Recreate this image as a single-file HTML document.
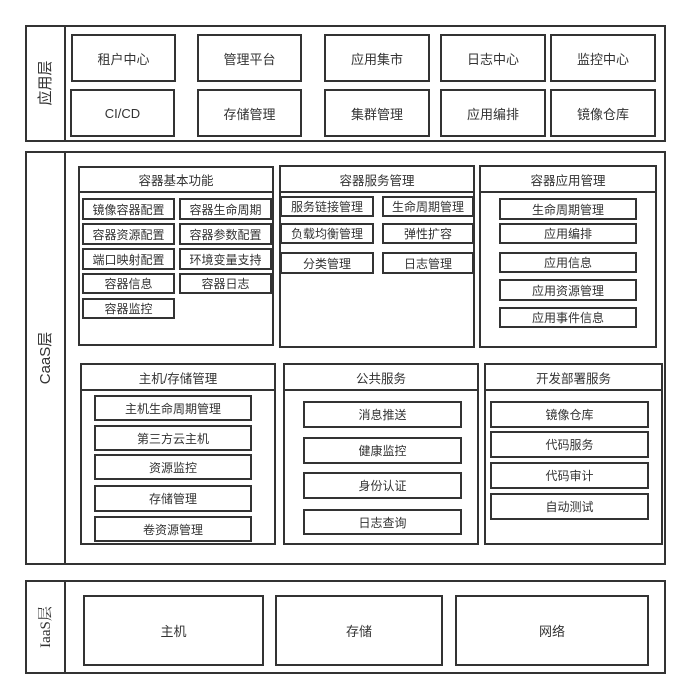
<!DOCTYPE html>
<html><head><meta charset="utf-8"><style>
*{margin:0;padding:0;box-sizing:border-box}
body{width:690px;height:698px;background:#fff;position:relative;overflow:hidden;font-family:"Liberation Sans","Noto Sans CJK SC",sans-serif;color:#333}
.b{position:absolute;border:2px solid #333;background:#fff;display:flex;align-items:center;justify-content:center;font-size:12px;white-space:nowrap}
.p{position:absolute;border:2px solid #333;background:#fff}
.h{position:absolute;border-bottom:2px solid #333;display:flex;align-items:center;justify-content:center;font-size:12.5px}
.v{position:absolute;transform:rotate(-90deg);font-size:15px;white-space:nowrap;text-align:center}
</style></head><body>
<!-- App layer -->
<div class="p" style="left:25px;top:25px;width:641px;height:117px"></div>
<div style="position:absolute;left:64px;top:25px;width:2px;height:117px;background:#333"></div>
<div class="v" style="left:5px;top:72px;width:80px;height:22px">应用层</div>
<div class="b" style="left:71px;top:34px;width:105px;height:48px;font-size:13px">租户中心</div>
<div class="b" style="left:197px;top:34px;width:105px;height:48px;font-size:13px">管理平台</div>
<div class="b" style="left:324px;top:34px;width:106px;height:48px;font-size:13px">应用集市</div>
<div class="b" style="left:440px;top:34px;width:106px;height:48px;font-size:13px">日志中心</div>
<div class="b" style="left:550px;top:34px;width:106px;height:48px;font-size:13px">监控中心</div>
<div class="b" style="left:70px;top:89px;width:105px;height:48px;font-size:13px">CI/CD</div>
<div class="b" style="left:197px;top:89px;width:105px;height:48px;font-size:13px">存储管理</div>
<div class="b" style="left:324px;top:89px;width:106px;height:48px;font-size:13px">集群管理</div>
<div class="b" style="left:440px;top:89px;width:106px;height:48px;font-size:13px">应用编排</div>
<div class="b" style="left:550px;top:89px;width:106px;height:48px;font-size:13px">镜像仓库</div>

<!-- CaaS layer -->
<div class="p" style="left:25px;top:151px;width:641px;height:414px"></div>
<div style="position:absolute;left:64px;top:151px;width:2px;height:414px;background:#333"></div>
<div class="v" style="left:5px;top:347px;width:80px;height:22px">CaaS层</div>

<div class="p" style="left:78px;top:166px;width:196px;height:180px"></div>
<div class="h" style="left:80px;top:168px;width:192px;height:25px">容器基本功能</div>
<div class="b" style="left:82px;top:198px;width:93px;height:22px">镜像容器配置</div>
<div class="b" style="left:179px;top:198px;width:93px;height:22px">容器生命周期</div>
<div class="b" style="left:82px;top:223px;width:93px;height:22px">容器资源配置</div>
<div class="b" style="left:179px;top:223px;width:93px;height:22px">容器参数配置</div>
<div class="b" style="left:82px;top:248px;width:93px;height:22px">端口映射配置</div>
<div class="b" style="left:179px;top:248px;width:93px;height:22px">环境变量支持</div>
<div class="b" style="left:82px;top:273px;width:93px;height:21px">容器信息</div>
<div class="b" style="left:179px;top:273px;width:93px;height:21px">容器日志</div>
<div class="b" style="left:82px;top:298px;width:93px;height:21px">容器监控</div>

<div class="p" style="left:279px;top:165px;width:196px;height:183px"></div>
<div class="h" style="left:281px;top:167px;width:192px;height:26px">容器服务管理</div>
<div class="b" style="left:280px;top:196px;width:94px;height:21px">服务链接管理</div>
<div class="b" style="left:382px;top:196px;width:92px;height:21px">生命周期管理</div>
<div class="b" style="left:280px;top:223px;width:94px;height:21px">负载均衡管理</div>
<div class="b" style="left:382px;top:223px;width:92px;height:21px">弹性扩容</div>
<div class="b" style="left:280px;top:252px;width:94px;height:22px">分类管理</div>
<div class="b" style="left:382px;top:252px;width:92px;height:22px">日志管理</div>

<div class="p" style="left:479px;top:165px;width:178px;height:183px"></div>
<div class="h" style="left:481px;top:167px;width:174px;height:26px">容器应用管理</div>
<div class="b" style="left:499px;top:198px;width:138px;height:22px">生命周期管理</div>
<div class="b" style="left:499px;top:223px;width:138px;height:21px">应用编排</div>
<div class="b" style="left:499px;top:252px;width:138px;height:21px">应用信息</div>
<div class="b" style="left:499px;top:279px;width:138px;height:22px">应用资源管理</div>
<div class="b" style="left:499px;top:307px;width:138px;height:21px">应用事件信息</div>

<div class="p" style="left:80px;top:363px;width:196px;height:182px"></div>
<div class="h" style="left:82px;top:365px;width:192px;height:26px">主机/存储管理</div>
<div class="b" style="left:94px;top:395px;width:158px;height:26px">主机生命周期管理</div>
<div class="b" style="left:94px;top:425px;width:158px;height:26px">第三方云主机</div>
<div class="b" style="left:94px;top:454px;width:158px;height:26px">资源监控</div>
<div class="b" style="left:94px;top:485px;width:158px;height:27px">存储管理</div>
<div class="b" style="left:94px;top:516px;width:158px;height:26px">卷资源管理</div>

<div class="p" style="left:283px;top:363px;width:196px;height:182px"></div>
<div class="h" style="left:285px;top:365px;width:192px;height:26px">公共服务</div>
<div class="b" style="left:303px;top:401px;width:159px;height:27px">消息推送</div>
<div class="b" style="left:303px;top:437px;width:159px;height:27px">健康监控</div>
<div class="b" style="left:303px;top:472px;width:159px;height:27px">身份认证</div>
<div class="b" style="left:303px;top:509px;width:159px;height:26px">日志查询</div>

<div class="p" style="left:484px;top:363px;width:179px;height:182px"></div>
<div class="h" style="left:486px;top:365px;width:175px;height:26px">开发部署服务</div>
<div class="b" style="left:490px;top:401px;width:159px;height:27px">镜像仓库</div>
<div class="b" style="left:490px;top:431px;width:159px;height:27px">代码服务</div>
<div class="b" style="left:490px;top:462px;width:159px;height:27px">代码审计</div>
<div class="b" style="left:490px;top:493px;width:159px;height:27px">自动测试</div>

<!-- IaaS layer -->
<div class="p" style="left:25px;top:580px;width:641px;height:94px"></div>
<div style="position:absolute;left:64px;top:580px;width:2px;height:94px;background:#333"></div>
<div class="v" style="left:5px;top:616px;width:80px;height:22px;font-family:'Liberation Serif','Noto Serif CJK SC',serif">IaaS层</div>
<div class="b" style="left:83px;top:595px;width:181px;height:71px;font-size:13px">主机</div>
<div class="b" style="left:275px;top:595px;width:168px;height:71px;font-size:13px">存储</div>
<div class="b" style="left:455px;top:595px;width:194px;height:71px;font-size:13px">网络</div>
</body></html>
